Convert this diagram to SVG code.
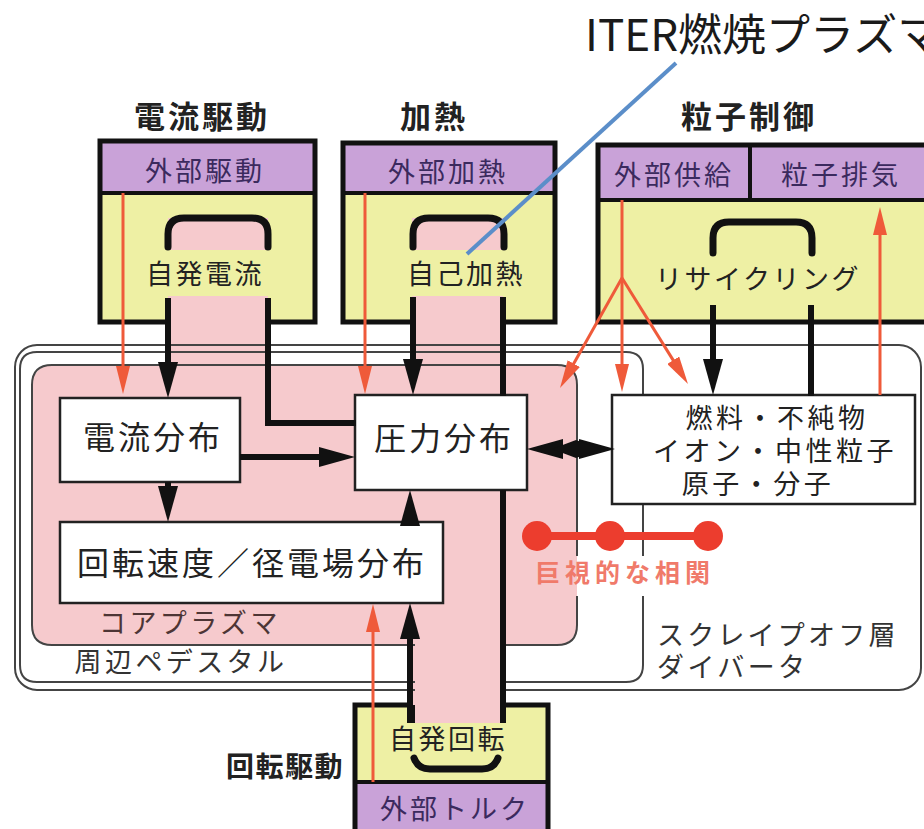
<svg xmlns="http://www.w3.org/2000/svg" width="924" height="829" viewBox="0 0 924 829">
<defs>
<style>
text{font-family:"Noto Sans CJK JP","Noto Sans",sans-serif;}
.hdr{font-size:31px;font-weight:bold;fill:#222;letter-spacing:3px;text-anchor:middle}
.pur{font-size:27px;fill:#3b2a5e;letter-spacing:3px;text-anchor:middle}
.yel{font-size:27px;fill:#222;letter-spacing:2.5px;text-anchor:middle}
.node{font-size:32px;fill:#222;letter-spacing:3px;text-anchor:middle}
.small{font-size:27px;fill:#222;letter-spacing:3.5px;text-anchor:middle;font-family:"Liberation Sans","Noto Sans CJK JP",sans-serif}
.lbl{font-size:27px;fill:#333;letter-spacing:3.4px}
.ml{font-family:"Liberation Sans","Noto Sans CJK JP",sans-serif}
.yfill{fill:#eef0a4}
.pfill{fill:#c9a2d8}
.bord{fill:none;stroke:#111;stroke-width:5}
.pink{fill:#f6cacd}
.frame{fill:none;stroke:#444;stroke-width:2}
.nbox{fill:#fff;stroke:#222;stroke-width:2.5}
.blk{fill:none;stroke:#111;stroke-width:6}
.red{fill:none;stroke:#ef5a3a;stroke-width:3}
.arch{fill:none;stroke:#111;stroke-width:7;stroke-linecap:round}
</style>
<marker id="ab" markerUnits="userSpaceOnUse" markerWidth="36" markerHeight="20" refX="6" refY="10" orient="auto-start-reverse"><path d="M0,0 L36,10 L0,20 z" fill="#111"/></marker>
<marker id="ar" markerUnits="userSpaceOnUse" markerWidth="28" markerHeight="14" refX="4" refY="7" orient="auto"><path d="M0,0 L28,7 L0,14 z" fill="#ef5a3a"/></marker>
</defs>
<rect width="924" height="829" fill="#fff"/>

<!-- core plasma fill -->
<rect x="32" y="365" width="545" height="280" rx="20" class="pink"/>

<!-- top boxes -->
<g id="current-drive">
<rect x="100" y="141" width="215" height="181" class="yfill"/>
<rect x="100" y="141" width="215" height="52" class="pfill"/>
<line x1="100" y1="193" x2="315" y2="193" stroke="#111" stroke-width="4"/>
<rect x="100" y="141" width="215" height="181" class="bord"/>
</g>
<g id="heating">
<rect x="343" y="143" width="212" height="179" class="yfill"/>
<rect x="343" y="143" width="212" height="50" class="pfill"/>
<line x1="343" y1="193" x2="555" y2="193" stroke="#111" stroke-width="4"/>
<rect x="343" y="143" width="212" height="179" class="bord"/>
</g>
<g id="particle-control">
<rect x="598" y="145" width="340" height="177" class="yfill"/>
<rect x="598" y="145" width="340" height="55" class="pfill"/>
<line x1="598" y1="200" x2="938" y2="200" stroke="#111" stroke-width="4"/>
<line x1="750" y1="145" x2="750" y2="200" stroke="#111" stroke-width="4"/>
<rect x="598" y="145" width="340" height="177" class="bord"/>
</g>
<g id="rotation-drive">
<rect x="355" y="705" width="193" height="130" class="yfill"/>
<rect x="355" y="782" width="193" height="53" class="pfill"/>
<line x1="355" y1="782" x2="548" y2="782" stroke="#111" stroke-width="4"/>
<rect x="355" y="705" width="193" height="130" class="bord"/>
</g>

<!-- pink columns -->
<rect x="168" y="218" width="100" height="150" class="pink"/>
<rect x="412" y="218" width="91" height="505" class="pink"/>

<!-- frames -->
<g id="frames">
<rect x="15" y="345" width="906" height="345" rx="22" class="frame"/>
<path d="M643,596 V665 Q643,682 626,682 H37 Q20,682 20,665 V369 Q20,352 37,352 H626 Q643,352 643,369 V556" class="frame"/>
<path d="M577,596 V625 Q577,645 557,645 H52 Q32,645 32,625 V385 Q32,365 52,365 H557 Q577,365 577,385 V556" class="frame"/>
</g>
<rect x="415" y="641" width="85" height="63" class="pink"/>

<!-- yellow text bands -->
<rect x="164" y="250" width="108" height="46" class="yfill"/>
<rect x="408" y="250" width="100" height="46" class="yfill"/>

<!-- arches -->
<path d="M168,247 V234 Q168,218 184,218 H252 Q268,218 268,234 V247" class="arch"/>
<path d="M413,247 V234 Q413,218 429,218 H488 Q504,218 504,234 V247" class="arch"/>
<path d="M713,253 V238 Q713,222 729,222 H796 Q812,222 812,238 V253" class="arch"/>
<path d="M414,758 Q418,769 430,769 H482 Q494,769 498,758" class="arch"/>

<!-- nodes -->
<g id="current-profile"><rect x="60" y="398" width="180" height="84" class="nbox"/><text x="153" y="449" class="node">電流分布</text></g>
<g id="rotation-profile"><rect x="60" y="522" width="383" height="81" class="nbox"/><text x="252" y="575" class="node">回転速度／径電場分布</text></g>
<g id="pressure-profile"><rect x="355" y="395" width="172" height="95" class="nbox"/><text x="444" y="450" class="node">圧力分布</text></g>
<g id="particles"><rect x="612" y="395" width="303" height="109" class="nbox"/>
<text class="small"><tspan x="777" y="428">燃料・不純物</tspan><tspan x="775" y="461">イオン・中性粒子</tspan><tspan x="758" y="494">原子・分子</tspan></text></g>

<!-- connectors -->
<g id="connectors">
<path d="M168,298 V368" class="blk" marker-end="url(#ab)"/>
<path d="M268,298 V423 H356" class="blk"/>
<path d="M240,457 H325" class="blk" marker-end="url(#ab)"/>
<path d="M168,482 V492" class="blk" marker-end="url(#ab)"/>
<path d="M413,297 V365" class="blk" marker-end="url(#ab)"/>
<path d="M503,297 V396 M503,490 V723" class="blk"/>
<path d="M410,523 V520" class="blk" marker-end="url(#ab)"/>
<path d="M410,723 V633" class="blk" marker-end="url(#ab)"/>
<path d="M713,305 V365" class="blk" marker-end="url(#ab)"/>
<path d="M811,305 V396" class="blk"/>
<path d="M412,705 V723" class="blk"/>
<path d="M557,449 H585" class="blk" marker-start="url(#ab)" marker-end="url(#ab)" stroke-width="5"/>
<polygon points="552,449 576,440 600,449 576,458" fill="#111"/>

<path d="M123,193 V370" class="red" marker-end="url(#ar)"/>
<path d="M365,193 V370" class="red" marker-end="url(#ar)"/>
<path d="M373,782 V628" class="red" marker-end="url(#ar)"/>
<path d="M622,200 V368" class="red" marker-end="url(#ar)"/>
<path d="M622,278 L571.8,367.1" class="red" marker-end="url(#ar)"/>
<path d="M622,278 L675.3,363.6" class="red" marker-end="url(#ar)"/>
<path d="M880,395 V231" class="red" marker-end="url(#ar)" stroke="#f27a5c"/>

<path d="M676,63 L467,254" stroke="#5b8ec9" stroke-width="4" fill="none"/>
</g>

<!-- macroscopic correlation -->
<g id="correlation">
<line x1="537" y1="536" x2="708" y2="536" stroke="#ec3d2e" stroke-width="8"/>
<circle cx="537" cy="536" r="15" fill="#ec3d2e"/>
<circle cx="610" cy="536" r="15" fill="#ec3d2e"/>
<circle cx="708" cy="536" r="15" fill="#ec3d2e"/>
<text x="625" y="582" font-size="25" fill="#f07a6a" letter-spacing="5" text-anchor="middle" font-weight="bold">巨視的な相関</text>
</g>

<!-- headers & labels -->
<text x="202" y="128" class="hdr">電流駆動</text>
<text x="434" y="128" class="hdr">加熱</text>
<text x="749" y="128" class="hdr">粒子制御</text>
<text x="205" y="181" class="pur">外部駆動</text>
<text x="448" y="182" class="pur">外部加熱</text>
<text x="674" y="185" class="pur">外部供給</text>
<text x="841" y="185" class="pur">粒子排気</text>
<text x="455" y="819" class="pur" letter-spacing="2.6">外部トルク</text>
<text x="205" y="284" class="yel">自発電流</text>
<text x="466" y="284" class="yel" letter-spacing="2">自己加熱</text>
<text x="758" y="289" class="yel" letter-spacing="2.6">リサイクリング</text>
<text x="448" y="749" class="yel" letter-spacing="2">自発回転</text>
<text x="190" y="633" class="lbl" text-anchor="middle" style="fill:#4d3535">コアプラズマ</text>
<text x="181" y="672" class="lbl" text-anchor="middle">周辺ペデスタル</text>
<text class="lbl ml"><tspan x="657" y="645" letter-spacing="3.2">スクレイプオフ層</tspan><tspan x="657" y="677">ダイバータ</tspan></text>
<text x="285" y="777" font-size="28" font-weight="bold" fill="#222" letter-spacing="1.5" text-anchor="middle">回転駆動</text>
<text x="585" y="51" font-size="44" fill="#1a1a1a">ITER燃焼プラズマ</text>
</svg>
